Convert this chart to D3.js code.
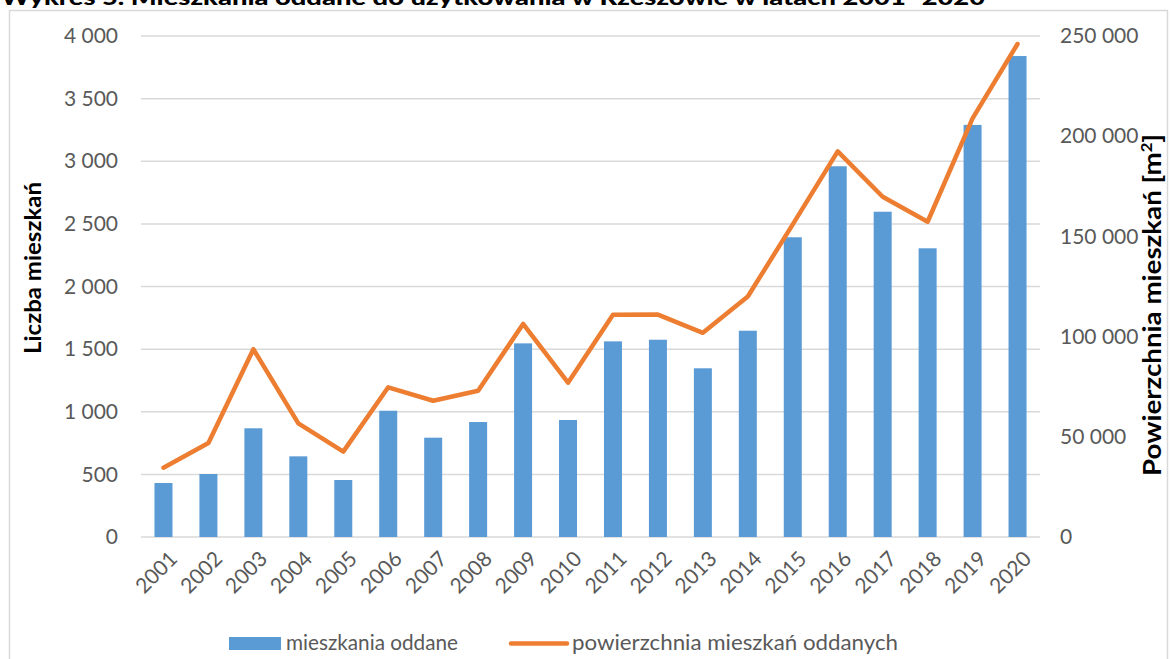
<!DOCTYPE html>
<html lang="pl">
<head>
<meta charset="UTF-8" />
<script src="https://cdnjs.cloudflare.com/ajax/libs/d3/7.8.5/d3.min.js"></script>
<title>Wykres 5</title>
<style>
body { margin: 0; background: #fff; }
svg text { font-family: Lato, "Open Sans", sans-serif; }
</style>
</head>
<body>
<svg id="chart" width="1170" height="659"></svg>
<script>
// data
const years = ['2001','2002','2003','2004','2005','2006','2007','2008','2009','2010',
  '2011','2012','2013','2014','2015','2016','2017','2018','2019','2020'];
const flats = [431, 503, 868, 644, 455, 1008, 793, 918, 1546, 934,
  1562, 1575, 1347, 1647, 2393, 2960, 2597, 2305, 3290, 3840];
const area = [34600, 46900, 93700, 56700, 42600, 74700, 68000, 73000, 106300, 77000,
  110900, 111000, 101900, 120000, 156000, 192400, 169800, 157300, 208900, 246000];
const leftTicks = [0, 500, 1000, 1500, 2000, 2500, 3000, 3500, 4000];
const rightTicks = [0, 50000, 100000, 150000, 200000, 250000];

const title = 'Wykres 5. Mieszkania oddane do użytkowania w Rzeszowie w latach 2001–2020';
const barColor = '#5B9BD5';
const lineColor = '#ED7D31';
const textColor = '#595959';

const svg = d3.select('#chart');
const plot = { left: 141, right: 1040, top: 36, bottom: 537 };

const fmt = v => d3.format(',')(v).replace(/,/g, ' ');

const band = d3.scaleBand().domain(years).range([plot.left, plot.right]);
const yL = d3.scaleLinear().domain([0, 4000]).range([plot.bottom, plot.top]);
const yR = d3.scaleLinear().domain([0, 250000]).range([plot.bottom, plot.top]);

// title (cut at top edge like the source)
svg.append('text')
  .attr('x', 1).attr('y', 5)
  .attr('textLength', 984).attr('lengthAdjust', 'spacingAndGlyphs')
  .style('font-size', '20px').style('font-weight', '900').style('fill', '#000')
  .text(title);

// chart frame
svg.append('rect')
  .attr('x', 9.5).attr('y', 10.5).attr('width', 1158).attr('height', 700)
  .style('fill', '#fff').style('stroke', '#d9d9d9').style('stroke-width', 1.5);

// grid
svg.append('g').selectAll('line').data(leftTicks).join('line')
  .attr('x1', plot.left).attr('x2', plot.right)
  .attr('y1', d => yL(d)).attr('y2', d => yL(d))
  .style('stroke', '#d9d9d9').style('stroke-width', 1.5);

// left axis labels
const axL = svg.append('g').attr('transform', `translate(${plot.left},0)`)
  .call(d3.axisLeft(yL).tickValues(leftTicks).tickFormat(fmt).tickSize(0).tickPadding(23));
axL.select('.domain').remove();
axL.selectAll('text').style('font-size', '21px').style('fill', textColor).style('font-family', 'Lato, sans-serif');

// right axis labels
const axR = svg.append('g').attr('transform', `translate(${plot.right},0)`)
  .call(d3.axisRight(yR).tickValues(rightTicks).tickFormat(fmt).tickSize(0).tickPadding(20));
axR.select('.domain').remove();
axR.selectAll('text').style('font-size', '21px').style('fill', textColor).style('font-family', 'Lato, sans-serif');

// bars
svg.append('g').selectAll('rect').data(flats).join('rect')
  .attr('x', (d, i) => band(years[i]) + band.bandwidth() / 2 - 9)
  .attr('width', 18)
  .attr('y', d => yL(d))
  .attr('height', d => yL(0) - yL(d))
  .style('fill', barColor);

// line
const line = d3.line()
  .x((d, i) => band(years[i]) + band.bandwidth() / 2)
  .y(d => yR(d));
svg.append('path').datum(area)
  .attr('d', line)
  .style('fill', 'none').style('stroke', lineColor)
  .style('stroke-width', 4.5).style('stroke-linejoin', 'round').style('stroke-linecap', 'round');

// x labels
svg.append('g').selectAll('text').data(years).join('text')
  .attr('transform', d => `translate(${band(d) + band.bandwidth() / 2 + 10},${plot.bottom + 18}) rotate(-45)`)
  .attr('text-anchor', 'end')
  .attr('dy', '0.35em')
  .style('font-size', '21px').style('fill', textColor)
  .text(d => d);

// axis titles
svg.append('text')
  .attr('transform', 'translate(41,268) rotate(-90)')
  .attr('text-anchor', 'middle')
  .attr('textLength', 172).attr('lengthAdjust', 'spacingAndGlyphs')
  .style('font-size', '22px').style('font-weight', '700').style('fill', '#000')
  .text('Liczba mieszkań');

const rt = svg.append('text')
  .attr('transform', 'translate(1161,305) rotate(-90)')
  .attr('text-anchor', 'middle')
  .attr('textLength', 342).attr('lengthAdjust', 'spacingAndGlyphs')
  .style('font-size', '25px').style('font-weight', '700').style('fill', '#000');
rt.append('tspan').text('Powierzchnia mieszkań [m');
rt.append('tspan').attr('dy', -9).style('font-size', '15px').text('2');
rt.append('tspan').attr('dy', 9).text(']');

// legend
const lg = svg.append('g');
lg.append('rect').attr('x', 229).attr('y', 637).attr('width', 52).attr('height', 13).style('fill', barColor);
lg.append('text').attr('x', 286).attr('y', 650)
  .attr('textLength', 172).attr('lengthAdjust', 'spacingAndGlyphs')
  .style('font-size', '21px').style('fill', textColor).text('mieszkania oddane');
lg.append('line').attr('x1', 511).attr('x2', 567).attr('y1', 643.5).attr('y2', 643.5)
  .style('stroke', lineColor).style('stroke-width', 4.5).style('stroke-linecap', 'round');
lg.append('text').attr('x', 572).attr('y', 650)
  .attr('textLength', 326).attr('lengthAdjust', 'spacingAndGlyphs')
  .style('font-size', '21px').style('fill', textColor).text('powierzchnia mieszkań oddanych');
</script>
</body>
</html>
